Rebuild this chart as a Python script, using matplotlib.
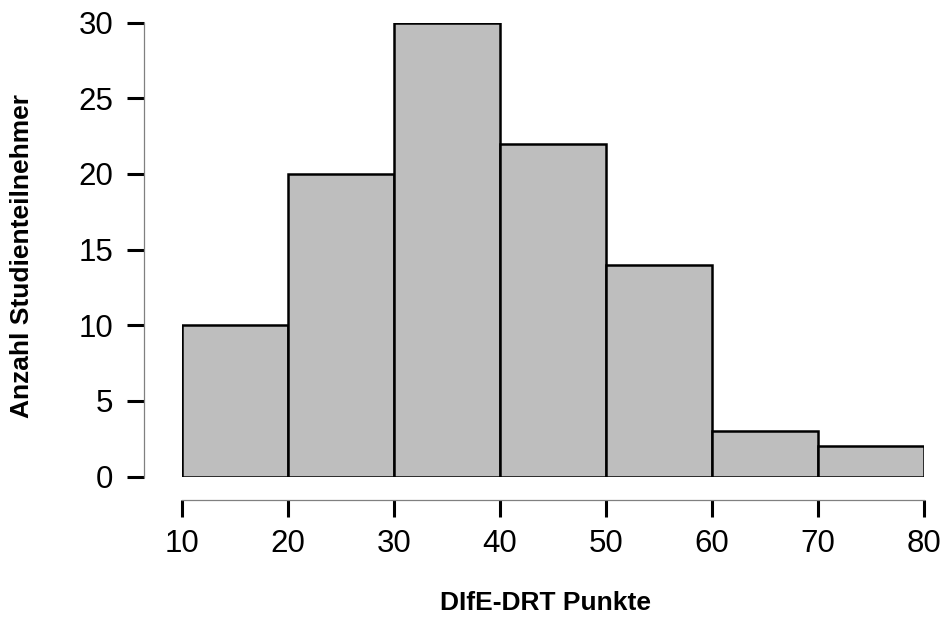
import numpy as np
import matplotlib.pyplot as plt

# histogram of DIfE-DRT scores
bin_edges = [10, 20, 30, 40, 50, 60, 70, 80]
counts = [10, 20, 30, 22, 14, 3, 2]
x_ticks = [10, 20, 30, 40, 50, 60, 70, 80]
y_ticks = [0, 5, 10, 15, 20, 25, 30]

plt.rcParams['font.family'] = ['Liberation Sans', 'DejaVu Sans']

W, H = 946, 619
fig = plt.figure(figsize=(W / 100, H / 100), dpi=100)
# plotting region in pixels: x 10..80 -> 181.7..923.7, y 0..30 -> 476.5..22.7
left, right, bottom, top = 181.7, 923.7, 476.5, 22.7
ax = fig.add_axes([left / W, (H - bottom) / H, (right - left) / W, (bottom - top) / H])

edges = np.array(bin_edges)
ax.bar(edges[:-1], counts, width=np.diff(edges), align='edge',
       color='#bebebe', edgecolor='black', linewidth=1.8)

ax.set_xlim(10, 80)
ax.set_ylim(0, 30)
ax.set_xticks(x_ticks)
ax.set_yticks(y_ticks)

for s in ['top', 'right']:
    ax.spines[s].set_visible(False)
ax.spines['left'].set_position(('outward', 27.1))
ax.spines['bottom'].set_position(('outward', 16.9))
ax.spines['left'].set_bounds(0, 30)
ax.spines['bottom'].set_bounds(10, 80)
for s in ['left', 'bottom']:
    ax.spines[s].set_color('#808080')
    ax.spines[s].set_linewidth(0.9)

ax.tick_params(axis='both', length=12, width=2.2, color='black',
               labelsize=22.5, pad=10)
ax.tick_params(axis='x', pad=9)

fig.text(22 / W, (H - 256) / H, 'Anzahl Studienteilnehmer', rotation=90,
         ha='center', va='center', fontsize=19, fontweight='bold')
fig.text(545 / W, (H - 603) / H, 'DIfE-DRT Punkte',
         ha='center', va='center', fontsize=19, fontweight='bold')

fig.savefig('out.png', dpi=100)
